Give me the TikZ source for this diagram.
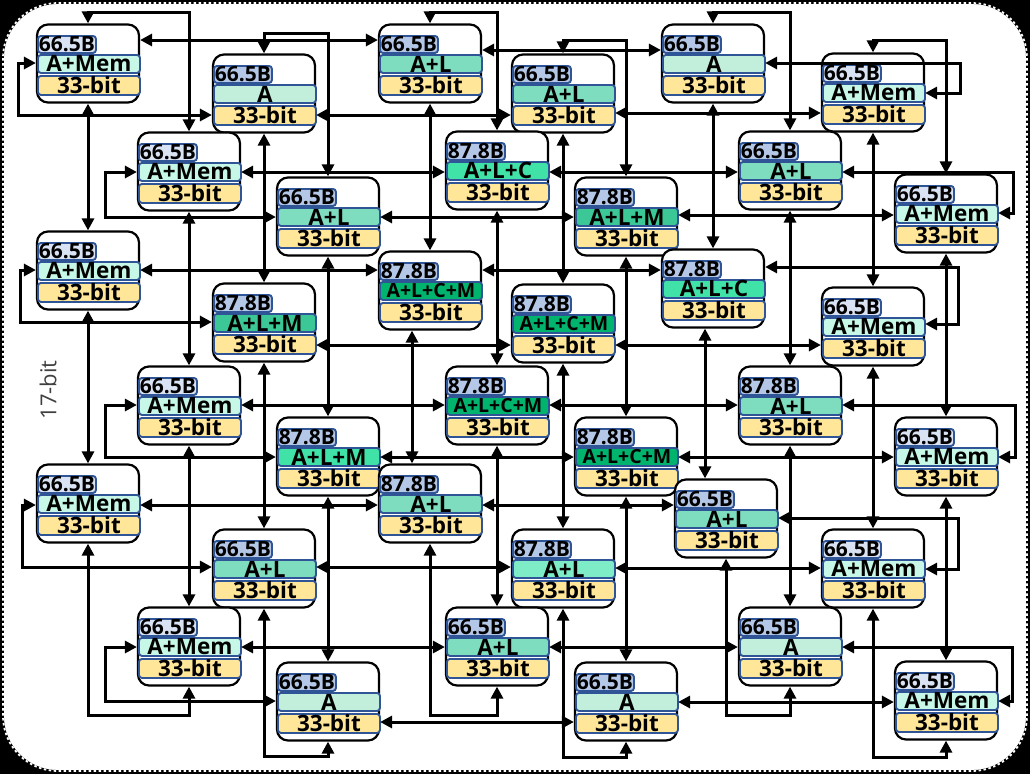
\documentclass[tikz,border=0pt]{standalone}
\usepackage{fontspec}
\setmainfont{Open Sans}
\usetikzlibrary{arrows.meta}

\definecolor{lblLight}{HTML}{DAE3F3}
\definecolor{lblDark}{HTML}{B4C7E7}
\definecolor{stripEdge}{HTML}{2F5597}
\definecolor{fillA}{HTML}{C1EFDC}
\definecolor{fillAMem}{HTML}{C7F7E7}
\definecolor{fillAL}{HTML}{7FDDBF}
\definecolor{fillALb}{HTML}{7EEDC7}
\definecolor{fillALC}{HTML}{40E2A8}
\definecolor{fillALM}{HTML}{3CC896}
\definecolor{fillALCM}{HTML}{00B46E}
\definecolor{fillBit}{HTML}{FFE699}

\begin{document}
\begin{tikzpicture}[x=1pt, y=-1pt,
    pebox/.style={draw, line width=2.2pt, rounded corners=11pt, fill=white,
        minimum width=102pt, minimum height=78pt, inner sep=0pt},
    strip/.style={draw=stripEdge, line width=1.9pt, rounded corners=3pt,
        inner sep=0pt, anchor=north west, minimum width=102pt,
        font=\bfseries\fontsize{22.5}{22.5}\selectfont},
    lL/.style={strip, fill=lblLight, minimum width=58pt, minimum height=17pt,
        font=\bfseries\fontsize{21}{21}\selectfont},
    lD/.style={lL, fill=lblDark},
    tA/.style={strip, fill=fillA, minimum height=18pt},
    tAMem/.style={strip, fill=fillAMem, minimum height=18pt},
    tAL/.style={strip, fill=fillAL, minimum height=18pt},
    tALb/.style={strip, fill=fillALb, minimum height=18pt},
    tALC/.style={strip, fill=fillALC, minimum height=18pt},
    tALM/.style={strip, fill=fillALM, minimum height=18pt},
    tALCM/.style={strip, fill=fillALCM, minimum height=18pt,
        font=\bfseries\fontsize{19.5}{19.5}\selectfont},
    bitrow/.style={strip, fill=fillBit, minimum height=19pt,
        font=\bfseries\fontsize{22.5}{22.5}\selectfont},
    link/.style={line width=3pt,
        {Triangle[length=12pt,width=12pt]}-{Triangle[length=12pt,width=12pt]}}]

    \useasboundingbox (0,0) rectangle (1030,774);
    \fill[black] (0,0) rectangle (1030,774);
    \fill[white, rounded corners=55pt] (3,3) rectangle (1027,771);
    \draw[black, line width=1.8pt, rounded corners=55pt] (3,3) rectangle (1027,771);
    \draw[white, line width=1.8pt, dash pattern=on 2.5pt off 2.5pt, rounded corners=55pt] (3,3) rectangle (1027,771);

    % processing elements
    \foreach \n/\x/\y/\l/\s/\f/\t in {
        p1/37/25/lL/66.5B/tAMem/A+Mem, p2/213/55/lD/66.5B/tA/A,
        p3/138/133/lL/66.5B/tAMem/A+Mem, p4/277/178/lD/66.5B/tAL/A+L,
        p5/379/25/lD/66.5B/tAL/A+L, p6/512/55/lD/66.5B/tAL/A+L,
        p7/446/132/lD/87.8B/tALC/A+L+C, p8/575/178/lD/87.8B/tALM/A+L+M,
        p9/662/25/lD/66.5B/tA/A, p10/822/54/lL/66.5B/tAMem/A+Mem,
        p11/739/132/lD/66.5B/tAL/A+L, p12/895/175/lL/66.5B/tAMem/A+Mem,
        p13/37/232/lL/66.5B/tAMem/A+Mem, p14/213/284/lD/87.8B/tALM/A+L+M,
        p15/138/367/lL/66.5B/tAMem/A+Mem, p16/277/418/lD/87.8B/tALC/A+L+M,
        p17/379/252/lD/87.8B/tALCM/A+L+C+M, p18/512/285/lD/87.8B/tALCM/A+L+C+M,
        p19/446/367/lD/87.8B/tALCM/A+L+C+M, p20/575/418/lD/87.8B/tALCM/A+L+C+M,
        p21/662/250/lD/87.8B/tALC/A+L+C, p22/822/288/lL/66.5B/tAMem/A+Mem,
        p23/739/367/lD/87.8B/tAL/A+L, p24/895/418/lL/66.5B/tAMem/A+Mem,
        p25/37/465/lL/66.5B/tAMem/A+Mem, p26/213/530/lD/66.5B/tAL/A+L,
        p27/138/608/lL/66.5B/tAMem/A+Mem, p28/277/663/lD/66.5B/tA/A,
        p29/379/465/lD/87.8B/tAL/A+L, p30/512/530/lD/87.8B/tALb/A+L,
        p31/446/608/lD/66.5B/tAL/A+L, p32/575/663/lD/66.5B/tA/A,
        p33/675/480/lD/66.5B/tAL/A+L, p34/822/530/lL/66.5B/tAMem/A+Mem,
        p35/739/608/lD/66.5B/tA/A, p36/895/662/lL/66.5B/tAMem/A+Mem}
    {
        \node[pebox] (\n) at (\x+51,\y+38.5) {};
        \node[\l] (\n-b) at (\x,\y+10) {\s};
        \node[\f] (\n-t) at (\x,\y+29) {\t};
        \node[bitrow] (\n-w) at (\x,\y+50) {33-bit};
    }

    \node[rotate=90, text=black!75, font=\fontsize{22}{22}\selectfont] (width) at (48,390) {17-bit};

    % row rings
    \draw[link] (p1.east |- 0,40) -- (p5.west |- 0,40);
    \draw[link] (p5.east |- 0,50) -- (p9.west |- 0,50);
    \draw[link] (p9.east |- 0,63) -- (960,63) |- (p10.east |- 0,93);
    \draw[link] (p6.east |- 0,113) -- (p10.west |- 0,113);
    \draw[link] (p2.east |- 0,115) -- (p6.west |- 0,115);
    \draw[link] (p1.west |- 0,63) -- (18,63) |- (p2.west |- 0,115);

    \draw[link] (p3.east |- 0,172) -- (p7.west |- 0,172);
    \draw[link] (p7.east |- 0,172) -- (p11.west |- 0,172);
    \draw[link] (p11.east |- 0,172) -- (1013,172) |- (p12.east |- 0,213);
    \draw[link] (p8.east |- 0,215) -- (p12.west |- 0,215);
    \draw[link] (p4.east |- 0,217) -- (p8.west |- 0,217);
    \draw[link] (p3.west |- 0,172) -- (105,172) |- (p4.west |- 0,217);

    \draw[link] (p13.east |- 0,270) -- (p17.west |- 0,270);
    \draw[link] (p17.east |- 0,270) -- (p21.west |- 0,270);
    \draw[link] (p21.east |- 0,267) -- (958,267) |- (p22.east |- 0,324);
    \draw[link] (p18.east |- 0,345) -- (p22.west |- 0,345);
    \draw[link] (p14.east |- 0,345) -- (p18.west |- 0,345);
    \draw[link] (p13.west |- 0,270) -- (20,270) |- (p14.west |- 0,322);

    \draw[link] (p15.east |- 0,405) -- (p19.west |- 0,405);
    \draw[link] (p19.east |- 0,405) -- (p23.west |- 0,405);
    \draw[link] (p23.east |- 0,405) -- (1015,405) |- (p24.east |- 0,457);
    \draw[link] (p20.east |- 0,457) -- (p24.west |- 0,457);
    \draw[link] (p16.east |- 0,457) -- (p20.west |- 0,457);
    \draw[link] (p15.west |- 0,405) -- (105,405) |- (p16.west |- 0,457);

    \draw[link] (p25.east |- 0,505) -- (p29.west |- 0,505);
    \draw[link] (p29.east |- 0,505) -- (p33.west |- 0,505);
    \draw[link] (p33.east |- 0,518) -- (958,518) |- (p34.east |- 0,569);
    \draw[link] (p30.east |- 0,568) -- (p34.west |- 0,568);
    \draw[link] (p26.east |- 0,567) -- (p30.west |- 0,567);
    \draw[link] (p25.west |- 0,505) -- (22,505) |- (p26.west |- 0,567);

    \draw[link] (p27.east |- 0,647) -- (p31.west |- 0,647);
    \draw[link] (p31.east |- 0,647) -- (p35.west |- 0,647);
    \draw[link] (p35.east |- 0,647) -- (1012,647) |- (p36.east |- 0,701);
    \draw[link] (p32.east |- 0,702) -- (p36.west |- 0,702);
    \draw[link] (p28.east |- 0,722) -- (p32.west |- 0,722);
    \draw[link] (p27.west |- 0,647) -- (105,647) |- (p28.west |- 0,701);

    % column rings
    \draw[link] (p1.south) -- (p13.north);
    \draw[link] (p13.south) -- (p25.north);
    \draw[link] (p25.south) -- (p25.south |- 0,715) -| (p27.south);
    \draw[link] (p27.north) -- (p15.south);
    \draw[link] (p15.north) -- (p3.south);
    \draw[link] (p3.north) -- (p3.north |- 0,12) -| (p1.north);

    \draw[link] (p2.south) -- (p14.north);
    \draw[link] (p14.south) -- (p26.north);
    \draw[link] (p26.south) -- (p26.south |- 0,756) -| (p28.south);
    \draw[link] (p28.north) -- (p16.south);
    \draw[link] (p16.north) -- (p4.south);
    \draw[link] (p4.north) -- (p4.north |- 0,33) -| (p2.north);

    \draw[link] (p5.south) -- (p17.north);
    \draw[link] (p17.south -| 412,0) -- (p29.north -| 412,0);
    \draw[link] (p29.south) -- (p29.south |- 0,715) -| (p31.south);
    \draw[link] (p31.north) -- (p19.south);
    \draw[link] (p19.north) -- (p7.south);
    \draw[link] (p7.north) -- (p7.north |- 0,12) -| (p5.north);

    \draw[link] (p6.south) -- (p18.north);
    \draw[link] (p18.south) -- (p30.north);
    \draw[link] (p30.south) -- (p30.south |- 0,757) -| (p32.south);
    \draw[link] (p32.north) -- (p20.south);
    \draw[link] (p20.north) -- (p8.south);
    \draw[link] (p8.north) -- (p8.north |- 0,40) -| (p6.north);

    \draw[link] (p9.south) -- (p21.north);
    \draw[link] (p21.south -| 705,0) -- (p33.north -| 705,0);
    \draw[link] (p33.south) -- (p33.south |- 0,715) -| (p35.south);
    \draw[link] (p35.north) -- (p23.south);
    \draw[link] (p23.north) -- (p11.south);
    \draw[link] (p11.north) -- (p11.north |- 0,12) -| (p9.north);

    \draw[link] (p10.south) -- (p22.north);
    \draw[link] (p22.south) -- (p34.north);
    \draw[link] (p34.south) -- (p34.south |- 0,757) -| (p36.south);
    \draw[link] (p36.north) -- (p24.south);
    \draw[link] (p24.north) -- (p12.south);
    \draw[link] (p12.north) -- (p12.north |- 0,40) -| (p10.north);
\end{tikzpicture}
\end{document}
